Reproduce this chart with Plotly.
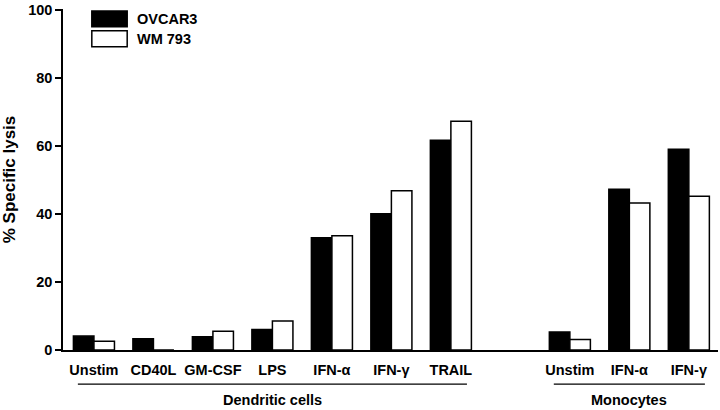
import plotly.graph_objects as go

# ---- data ----
dc_labels = ["Unstim", "CD40L", "GM-CSF", "LPS", "IFN-α", "IFN-γ", "TRAIL"]
mono_labels = ["Unstim", "IFN-α", "IFN-γ"]
ovcar3_dc = [4.1, 3.3, 3.9, 6.0, 33.0, 40.0, 61.6]
wm793_dc = [2.6, 0.0, 5.5, 8.5, 33.6, 46.8, 67.2]
ovcar3_mono = [5.3, 47.2, 59.0]
wm793_mono = [3.1, 43.2, 45.2]
group_names = ["Dendritic cells", "Monocytes"]
series_names = ["OVCAR3", "WM 793"]
y_ticks = [0, 20, 40, 60, 80, 100]

# positions: one empty slot between the two groups
dc_pos = list(range(len(dc_labels)))
mono_pos = [len(dc_labels) + 1 + i for i in range(len(mono_labels))]
all_pos = dc_pos + mono_pos
all_labels = dc_labels + mono_labels
ovcar3 = ovcar3_dc + ovcar3_mono
wm793 = wm793_dc + wm793_mono

FONT = "Liberation Sans, Arial, Helvetica, sans-serif"

fig = go.Figure()
fig.add_trace(go.Bar(x=all_pos, y=ovcar3, name=series_names[0],
                     marker=dict(color="black", line=dict(color="black", width=1.5))))
fig.add_trace(go.Bar(x=all_pos, y=wm793, name=series_names[1],
                     marker=dict(color="white", line=dict(color="black", width=1.5))))

fig.update_layout(
    width=720, height=410,
    margin=dict(l=63, r=2, t=7, b=60),
    paper_bgcolor="white", plot_bgcolor="white",
    barmode="group", bargap=0.31, bargroupgap=0.0,
    showlegend=False,
    font=dict(family=FONT, color="black"),
)
fig.update_xaxes(
    range=[-0.52, 10.49],
    tickvals=all_pos, ticktext=all_labels,
    tickfont=dict(family=FONT, size=14.5, color="black", weight="bold"),
    showline=True, linecolor="black", linewidth=1.5,
    ticks="", showgrid=False, zeroline=False,
    ticklabelstandoff=6,
)
fig.update_yaxes(
    range=[0, 100.2],
    tickvals=y_ticks,
    tickfont=dict(family=FONT, size=14.5, color="black", weight="bold"),
    ticklabeloverflow="allow",
    showline=True, linecolor="black", linewidth=1.5,
    ticks="outside", ticklen=6, tickwidth=1.5, tickcolor="black",
    showgrid=False, zeroline=False,
    title=dict(text="% Specific lysis", font=dict(family=FONT, size=17, color="black", weight="bold"),
               standoff=9),
)

# group underlines and labels
groups = [(group_names[0], dc_pos), (group_names[1], mono_pos)]
for name, pos in groups:
    fig.add_shape(type="line", xref="x", yref="paper",
                  x0=pos[0] - 0.27, x1=pos[-1] + 0.27, y0=-0.1, y1=-0.1,
                  line=dict(color="black", width=1.2))
    fig.add_annotation(xref="x", yref="paper", x=sum(pos) / len(pos), y=-0.146,
                       text=name, showarrow=False, xanchor="center", yanchor="middle",
                       font=dict(family=FONT, size=14.5, color="black", weight="bold"))

# custom legend
legend_items = [(series_names[0], "black", 0.994, 0.948), (series_names[1], "white", 0.936, 0.889)]
for name, col, y1, y0 in legend_items:
    fig.add_shape(type="rect", xref="paper", yref="paper", x0=0.044, x1=0.098, y0=y0, y1=y1,
                  fillcolor=col, line=dict(color="black", width=1.5))
    fig.add_annotation(xref="paper", yref="paper", x=0.11, y=(y0 + y1) / 2, text=name,
                       showarrow=False, xanchor="left", yanchor="middle",
                       font=dict(family=FONT, size=14.5, color="black", weight="bold"))

fig.write_html("out.html", config={"displayModeBar": False},
               post_script="document.body.style.margin='0';document.body.style.overflow='hidden';")
